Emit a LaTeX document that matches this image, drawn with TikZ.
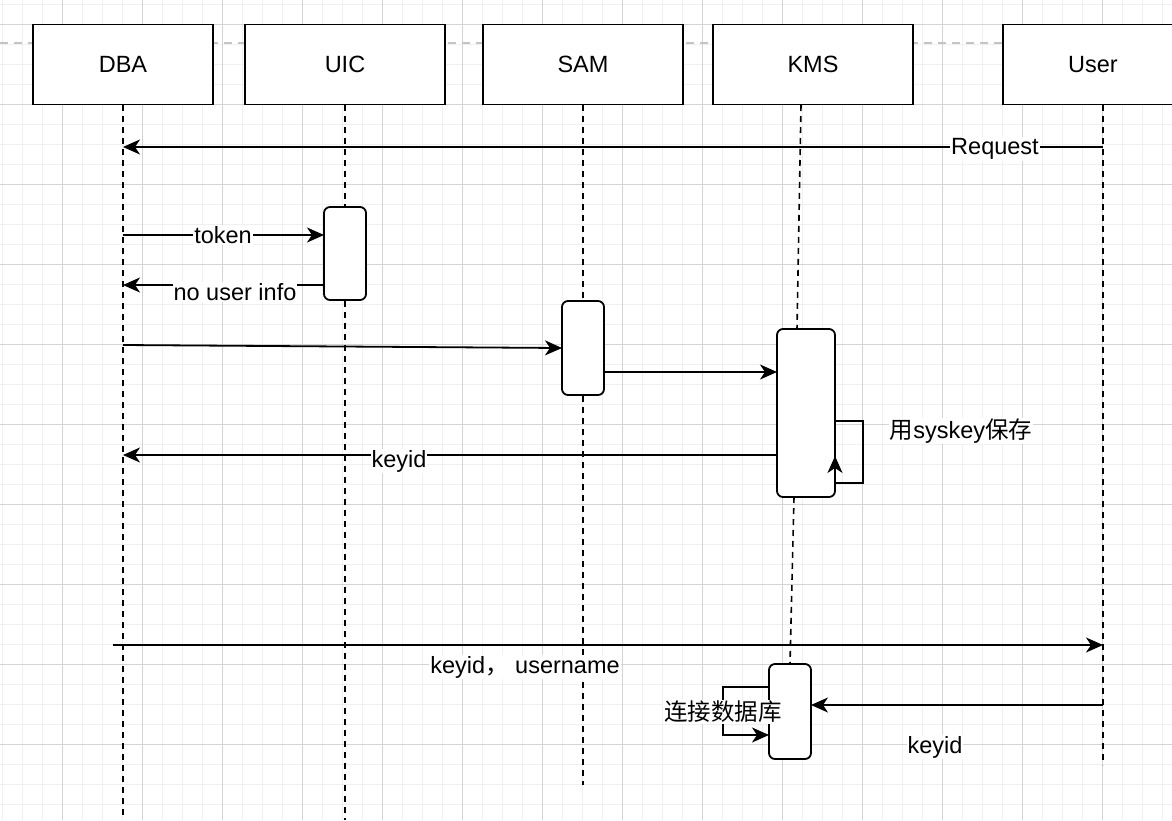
\documentclass[tikz,border=0pt]{standalone}
\usepackage{fontspec}
\setmainfont{Liberation Sans}
\newfontfamily\cjk{Noto Sans CJK SC}
\usetikzlibrary{arrows.meta}
\definecolor{gmaj}{HTML}{D4D4D4}
\definecolor{gmin}{HTML}{F0F0F0}
\definecolor{topdash}{HTML}{C4C4C4}
\tikzset{
  actor/.style={draw, line width=1.8pt, fill=white, minimum width=200pt, minimum height=80pt, inner sep=0pt, font=\fontsize{23.5}{28}\selectfont},
  actbar/.style={draw, line width=1.8pt, fill=white, rounded corners=6pt, inner sep=0pt},
  life/.style={line width=1.6pt, dash pattern=on 6pt off 5pt},
  msg/.style={line width=1.8pt, -{Stealth[length=17pt,width=15pt,inset=5pt]}},
  plain/.style={line width=1.8pt},
  lbl/.style={fill=white, inner sep=1pt, font=\fontsize{23.5}{28}\selectfont},
}
\begin{document}
\begin{tikzpicture}[x=1pt,y=-1pt]
\useasboundingbox (0,0) rectangle (1172,820);
\fill[white] (0,0) rectangle (1172,820);
% grid
\foreach \x in {2,22,...,1172} \draw[gmin, line width=1pt] (\x,0) -- (\x,820);
\foreach \y in {4,24,...,820} \draw[gmin, line width=1pt] (0,\y) -- (1172,\y);
\foreach \x in {62,142,...,1172} \draw[gmaj, line width=1pt] (\x,0) -- (\x,820);
\foreach \y in {24,104,...,820} \draw[gmaj, line width=1pt] (0,\y) -- (1172,\y);
% top dashed line
\coordinate (tl) at (0,43);
\coordinate (tr) at (1172,43);
\draw[topdash, line width=1.5pt, dash pattern=on 8pt off 6pt] (tl) -- (tr);

% actors
\node[actor, minimum width=180pt] (dba) at (123,64.5) {DBA};
\node[actor] (uic) at (345,64.5) {UIC};
\node[actor] (sam) at (583,64.5) {SAM};
\node[actor] (kms) at (813,64.5) {KMS};
\node[actor, minimum width=180pt] (user) at (1093,64.5) {User};

% activation bars
\node[actbar, minimum width=42pt, minimum height=93pt] (uicact) at (345,253.5) {};
\node[actbar, minimum width=42pt, minimum height=94pt] (samact) at (583,348) {};
\node[actbar, minimum width=58pt, minimum height=168pt] (kmsact) at (806,413) {};
\node[actbar, minimum width=42pt, minimum height=95pt] (kmsact2) at (790,711.5) {};

% lifeline coordinates
\coordinate (dbaend) at (123,820);
\coordinate (uicend) at (345,820);
\coordinate (samend) at (583,785);
\coordinate (kmstop) at (801,105);
\coordinate (kmsa1top) at (797,329);
\coordinate (kmsa1bot) at (794,497);
\coordinate (kmsa2top) at (790,664);
\coordinate (usertop) at (1103,105);
\coordinate (userend) at (1103,765);

% lifelines (on background, before bars redrawn)
\begin{scope}[on background layer/.style={}]
\draw[life] (dba.south) -- (dbaend);
\draw[life] (uic.south) -- (uicact.north);
\draw[life] (uicact.south) -- (uicend);
\draw[life] (sam.south) -- (samact.north);
\draw[life] (samact.south) -- (samend);
\draw[life] (kmstop) -- (kmsa1top);
\draw[life] (kmsa1bot) -- (kmsa2top);
\draw[life] (usertop) -- (userend);
\end{scope}

% message coordinates
\coordinate (u147) at (1103,147);
\coordinate (d147) at (123,147);
\coordinate (d235) at (123,235);
\coordinate (a235) at (324,235);
\coordinate (a285) at (324,285);
\coordinate (d285) at (123,285);
\coordinate (d345) at (123,345);
\coordinate (s348) at (562,348);
\coordinate (s372) at (604,372);
\coordinate (k372) at (777,372);
\coordinate (k455) at (777,455);
\coordinate (d455) at (123,455);
\coordinate (lpa) at (835,421);
\coordinate (lpb) at (863,421);
\coordinate (lpc) at (863,483);
\coordinate (lpd) at (835,483);
\coordinate (lpe) at (835,456);
\coordinate (d645) at (113,645);
\coordinate (u645) at (1103,645);
\coordinate (u705) at (1103,705);
\coordinate (k705) at (811,705);
\coordinate (mpa) at (769,687);
\coordinate (mpb) at (723,687);
\coordinate (mpc) at (723,735);
\coordinate (mpd) at (769,735);

% messages
\draw[msg] (u147) -- (d147);
\draw[msg] (d235) -- (a235);
\draw[msg] (a285) -- (d285);
\draw[msg] (d345) -- (s348);
\draw[msg] (s372) -- (k372);
\draw[msg] (k455) -- (d455);
\draw[plain] (lpa) -- (lpb) -- (lpc) -- (lpd);
\draw[msg] (lpd) -- (lpe);
\draw[msg] (d645) -- (u645);
\draw[msg] (u705) -- (k705);
\draw[msg] (mpa) -- (mpb) -- (mpc) -- (mpd);

% labels
\node[lbl] (lreq) at (995,149) {Request};
\node[lbl] (ltok) at (223,235) {token};
\node[lbl] (lnoinfo) at (235,292) {no user info};
\node[lbl] (lkey1) at (399,461) {keyid};
\node[lbl] (lsys) at (961,431) {{\cjk 用}syskey{\cjk 保存}};
\node[lbl] (lkeyuser) at (525,667) {keyid{\cjk ，}\ username};
\node[lbl] (ldb) at (723,712) {\cjk 连接数据库};
\node[lbl] (lkey2) at (935,747) {keyid};
\end{tikzpicture}
\end{document}
